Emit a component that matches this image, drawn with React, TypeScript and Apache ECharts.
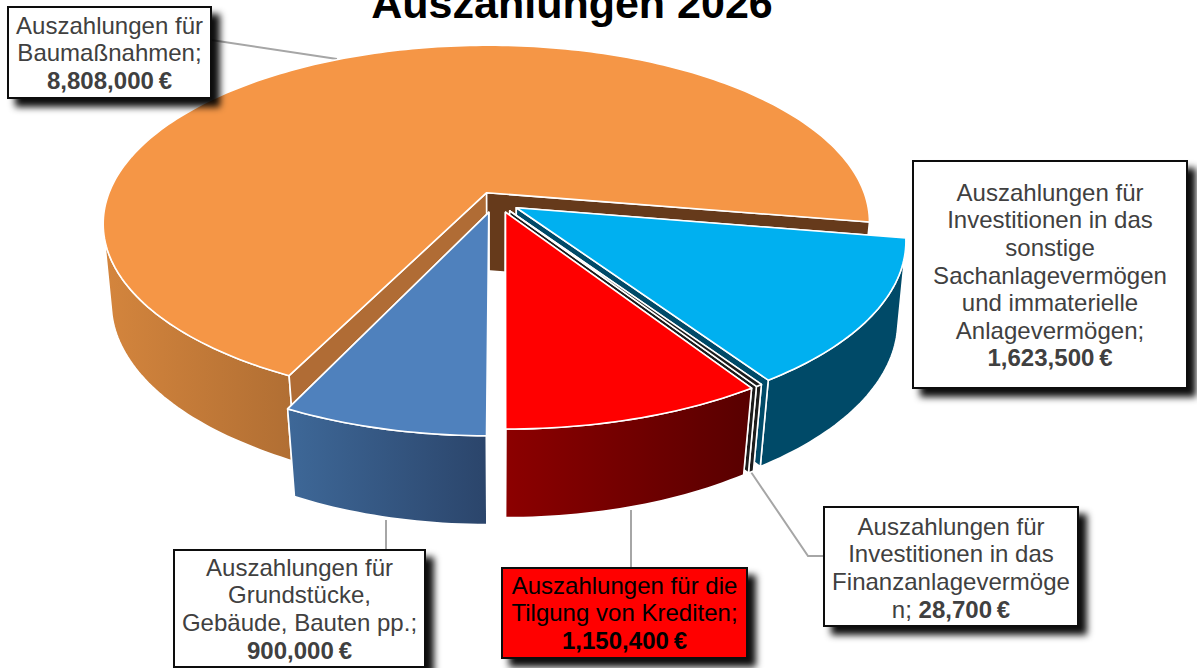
import React, { useEffect, useRef } from "react";
import * as echarts from "echarts";

const titleText = "Auszahlungen 2026";
const values = [8808000, 1623500, 28700, 1150400, 900000];
const nameLines = [
  ["Auszahlungen für", "Baumaßnahmen;"],
  ["Auszahlungen für", "Investitionen in das", "sonstige", "Sachanlagevermögen", "und immaterielle", "Anlagevermögen;"],
  ["Auszahlungen für", "Investitionen in das", "Finanzanlagevermöge", "n;"],
  ["Auszahlungen für die", "Tilgung von Krediten;"],
  ["Auszahlungen für", "Grundstücke,", "Gebäude, Bauten pp.;"],
];

// appearance of each slice, in drawing order
const topColors = ["#F59646", "#00B0F0", "#1C1C1C", "#FF0000", "#4F81BD"];
const startWallColors = ["#B06C35", "#004660", "#1C1C1C", "#5A0000", "#2B456B"];
const endWallColors = ["#663A1B", "#004A68", "#1C1C1C", "#800000", "#3A6090"];
const outerWallStops: [number, string][][] = [
  [[0, "#D4853D"], [1, "#B06E33"]],
  [[0, "#004A68"], [1, "#004A68"]],
  [[0, "#1C1C1C"], [1, "#1C1C1C"]],
  [[0, "#8C0000"], [1, "#580000"]],
  [[0, "#3E6898"], [1, "#2B456B"]],
];
const depthStretch = [1, 1, 1, 1, 1.03];
const sliceNudgeX = [0, 0, 0, 2, -3];

// label boxes: x, y, w, h, first-line centre y
const boxes = [
  { x: 8, y: 7, w: 203, h: 91, first: 26, fill: "#FFFFFF", color: "#404040" },
  { x: 913, y: 161, w: 274, h: 227, first: 193, fill: "#FFFFFF", color: "#404040" },
  { x: 824, y: 507, w: 254, h: 119, first: 527, fill: "#FFFFFF", color: "#404040" },
  { x: 502, y: 568, w: 245, h: 90, first: 586, fill: "#FF0000", color: "#000000" },
  { x: 174, y: 550, w: 251, h: 117, first: 568, fill: "#FFFFFF", color: "#404040" },
];
const leaders = [
  [[211, 40], [337, 59]],
  [[751, 472], [808, 556], [824, 556]],
  [[631, 510], [631, 568]],
  [[386, 520], [386, 550]],
];

// projection of the pie plane
const CX = 497;
const CY = 202;
const F = 381;
const G = 175.7;
const K = 0.1716;
const EXPLODE = 0.06;
const END_OF_FIRST_DEG = 9.5;
const WALL_BASE = 78.4;
const WALL_GROW = 0.045;
const VANISH = 2700;
const MAX_TAPER = 8;
const LINE_H = 27.6;
const FONT = '"Liberation Sans", Arial, sans-serif';
const FONT_SIZE = 23;
const STRETCH = 1.045;

const total = values.reduce((a, b) => a + b, 0);
const fmt = (v: number) => v.toLocaleString("en-US") + "\u202f€";

type Pt = [number, number];

function top(x: number, y: number): Pt {
  const w = 1 - K * y;
  return [(F * x) / w, (G * y) / w];
}
function sliceGeometry(index: number) {
  const before = values.slice(0, index).reduce((a, b) => a + b, 0);
  const base = END_OF_FIRST_DEG - (values[0] / total) * 360;
  const a0 = ((base + (before / total) * 360) * Math.PI) / 180;
  const a1 = a0 + (values[index] / total) * Math.PI * 2;
  const mid = (a0 + a1) / 2;
  const ox = Math.cos(mid) * EXPLODE;
  const oy = Math.sin(mid) * EXPLODE;
  const n = Math.max(4, Math.ceil((a1 - a0) / 0.02));
  const rawApex = top(ox, oy);
  const apex: Pt = [rawApex[0] + sliceNudgeX[index], rawApex[1]];
  const arc: Pt[] = [];
  for (let i = 0; i <= n; i++) {
    const t = a0 + ((a1 - a0) * i) / n;
    const p = top(Math.cos(t) + ox, Math.sin(t) + oy);
    arc.push([p[0] + sliceNudgeX[index], apex[1] + (p[1] - apex[1]) * depthStretch[index]]);
  }
  return { apex, arc };
}
const up = (p: Pt): Pt => [CX + p[0], CY + p[1]];
const down = (p: Pt): Pt => {
  const h = WALL_BASE + WALL_GROW * p[1];
  const taper = Math.min(MAX_TAPER, (Math.abs(p[0]) * h) / VANISH);
  return [CX + p[0] - Math.sign(p[0]) * taper, CY + p[1] + h];
};
function solid(points: Pt[], fill: any, width = 1.6) {
  return {
    type: "polygon",
    shape: { points },
    style: { fill, stroke: "#FFFFFF", lineWidth: width, lineJoin: "round" },
    silent: true,
  };
}
// the part of the rim that faces the viewer
function frontArc(arc: Pt[]): Pt[] {
  return arc.filter((p, i) => {
    const q = arc[Math.min(i + 1, arc.length - 1)];
    const r = arc[Math.max(i - 1, 0)];
    const tx = q[0] - r[0];
    const ty = q[1] - r[1];
    const a = up(p);
    const b = down(p);
    return tx * (b[1] - a[1]) - ty * (b[0] - a[0]) < 0;
  });
}

function renderSlice(params: any) {
  const i = params.dataIndex;
  const { apex, arc } = sliceGeometry(i);
  const first = arc[0];
  const last = arc[arc.length - 1];
  const grad = new echarts.graphic.LinearGradient(
    0, 0, 1, 0,
    outerWallStops[i].map(([offset, color]) => ({ offset, color }))
  );
  const children: any[] = [];
  const startWall = solid([up(apex), up(first), down(first), down(apex)], startWallColors[i]);
  const endWall = solid([up(apex), up(last), down(last), down(apex)], endWallColors[i]);
  // a wall that faces away from the viewer stays behind the outer wall
  const startVisible = first[0] < apex[0];
  const endVisible = last[0] > apex[0];
  if (!startVisible) children.push(startWall);
  if (!endVisible) children.push(endWall);
  const rim = frontArc(arc);
  if (rim.length > 1) {
    children.push(solid([...rim.map(up), ...rim.slice().reverse().map(down)], grad));
  }
  if (startVisible) children.push(startWall);
  if (endVisible) children.push(endWall);
  children.push(solid([up(apex), ...arc.map(up)], topColors[i]));
  return { type: "group", children };
}
function renderLeader(params: any) {
  return {
    type: "polyline",
    shape: { points: leaders[params.dataIndex] },
    style: { stroke: "#A6A6A6", lineWidth: 2, fill: "none" },
    silent: true,
  };
}

function labelGraphics() {
  const out: any[] = [];
  boxes.forEach((b, i) => {
    out.push({
      type: "rect",
      z: 10,
      silent: true,
      shape: { x: b.x, y: b.y, width: b.w, height: b.h },
      style: {
        fill: b.fill,
        stroke: "#111111",
        lineWidth: 2,
        shadowColor: "rgba(0,0,0,0.95)",
        shadowBlur: 7,
        shadowOffsetX: 8,
        shadowOffsetY: 8,
      },
    });
    const lines = nameLines[i];
    const cx = b.x + b.w / 2;
    const common = { fontFamily: FONT, fontSize: FONT_SIZE, fill: b.color, align: "center", verticalAlign: "middle" };
    lines.forEach((line, li) => {
      const joinValue = line === "n;";
      out.push({
        type: "text",
        z: 11,
        silent: true,
        x: cx,
        y: b.first + li * LINE_H,
        scaleX: STRETCH,
        style: joinValue
          ? {
              ...common,
              text: `{a|${line} }{b|${fmt(values[i])}}`,
              rich: {
                a: { fontFamily: FONT, fontSize: FONT_SIZE, fill: b.color },
                b: { fontFamily: FONT, fontSize: FONT_SIZE, fontWeight: "bold", fill: b.color },
              },
            }
          : { ...common, text: line },
      });
    });
    if (!lines.includes("n;")) {
      out.push({
        type: "text",
        z: 11,
        silent: true,
        x: cx,
        y: b.first + lines.length * LINE_H,
        scaleX: STRETCH,
        style: { ...common, fontWeight: "bold", text: fmt(values[i]) },
      });
    }
  });
  return out;
}

export default function App() {
  const ref = useRef<HTMLDivElement>(null);
  useEffect(() => {
    document.body.style.margin = "0";
    document.body.style.overflow = "hidden";
    const chart = echarts.init(ref.current!, undefined, { renderer: "svg" });
    chart.setOption({
      animation: false,
      backgroundColor: "#FFFFFF",
      title: {
        text: titleText,
        left: 567,
        top: -24,
        textAlign: "center",
        textStyle: { fontFamily: FONT, fontSize: 43, fontWeight: "bold", color: "#000000" },
      },
      series: [
        {
          type: "custom",
          name: "leaders",
          coordinateSystem: "none",
          z: 1,
          silent: true,
          data: leaders.map((_, i) => i),
          renderItem: renderLeader,
        },
        {
          type: "custom",
          name: titleText,
          coordinateSystem: "none",
          z: 2,
          silent: true,
          data: values,
          renderItem: renderSlice,
        },
      ],
      graphic: { elements: labelGraphics() },
    });
    return () => chart.dispose();
  }, []);
  return <div ref={ref} style={{ position: "absolute", left: 0, top: 0, width: 1197, height: 668 }} />;
}
